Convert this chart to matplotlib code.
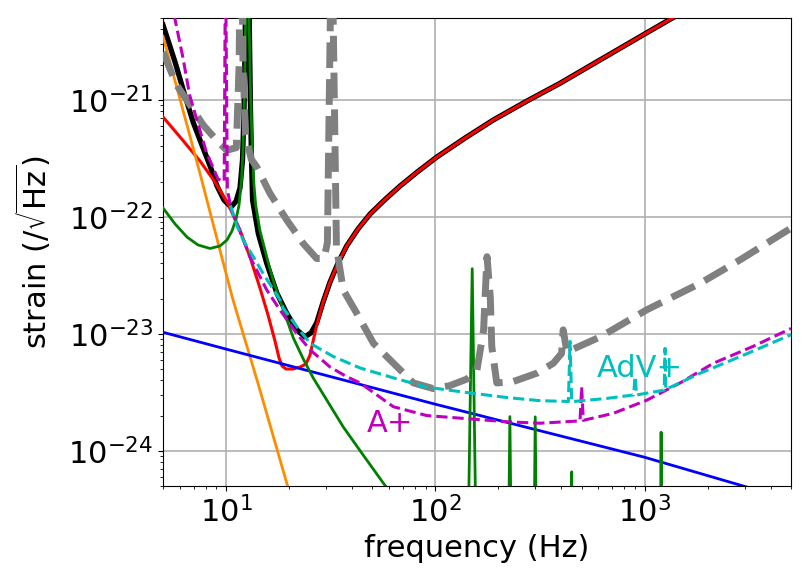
import matplotlib
matplotlib.use("Agg")
import matplotlib.pyplot as plt

# ---------------- data ----------------
total_f = [5.0, 5.71, 6.25, 6.96, 7.51, 8.39, 9.06, 9.78, 10.57, 11.17, 11.66, 11.99, 12.19,
           12.32, 12.62, 12.95, 13.09, 13.24, 13.39, 14.26, 15.65, 17.5, 19.5, 21.8, 23.8,
           25.5, 27.1, 29.1, 31.4, 34.3, 37.7, 42.7, 48.8, 57.5, 67.8, 82.6, 101.6, 138.6,
           189.0, 274.0, 394.0, 612.0, 1005.0, 1839.0]
total_h = [4.36e-21, 2.10e-21, 1.21e-21, 6.46e-22, 4.53e-22, 2.72e-22, 1.83e-22, 1.39e-22,
           1.21e-22, 1.36e-22, 1.76e-22, 3.06e-22, 8.2e-22, 2.66e-21, 1e-19, 3.24e-21, 8.2e-22,
           3.06e-22, 1.39e-22, 7.2e-23, 4.0e-23, 2.22e-23, 1.5e-23, 1.08e-23, 9.4e-24,
           1.02e-23, 1.24e-23, 1.87e-23, 2.77e-23, 4.03e-23, 5.63e-23, 7.86e-23, 1.057e-22,
           1.405e-22, 1.83e-22, 2.44e-22, 3.24e-22, 4.71e-22, 6.71e-22, 9.76e-22, 1.383e-21,
           2.19e-21, 3.67e-21, 6.85e-21]

quantum_f = [5.0, 6.03, 7.51, 8.86, 10.22, 11.66, 13.02, 14.53, 15.87, 17.14, 17.92, 18.51,
             19.35, 20.9, 22.6, 24.1, 25.2, 26.0, 27.1, 29.1, 31.4, 34.3, 37.7, 42.7, 48.8,
             57.5, 67.8, 82.6, 101.6, 138.6, 189.0, 274.0, 394.0, 612.0, 1005.0, 1839.0]
quantum_h = [7.13e-22, 4.81e-22, 3.0e-22, 1.98e-22, 1.29e-22, 7.71e-23, 4.53e-23, 2.46e-23,
             1.45e-23, 8.67e-24, 6.21e-24, 5.31e-24, 5.0e-24, 5.0e-24, 5.2e-24, 5.52e-24,
             6.59e-24, 8.5e-24, 1.17e-23, 1.87e-23, 2.77e-23, 4.03e-23, 5.63e-23, 7.86e-23,
             1.057e-22, 1.405e-22, 1.83e-22, 2.44e-22, 3.24e-22, 4.71e-22, 6.71e-22, 9.76e-22,
             1.383e-21, 2.19e-21, 3.67e-21, 6.85e-21]

seismic_f = [5.0, 7.5, 9.35, 10.8, 14.2, 19.5, 21.0]
seismic_h = [3.5e-21, 2.37e-22, 5.2e-23, 1.95e-23, 3.8e-24, 5.3e-25, 3.5e-25]

coating_f = [5.0, 10.0, 100.0, 1000.0, 5000.0]
coating_h = [1.03e-23, 7.4e-24, 2.5e-24, 8.8e-25, 3.8e-25]

susp_f = [5.0, 5.71, 6.51, 7.35, 8.39, 9.36, 10.11, 10.68, 11.17, 11.54, 11.86, 12.05, 12.28,
          12.4, 12.62, 12.88, 13.07, 13.36, 13.6, 13.86, 14.53, 15.65, 16.77, 18.1, 19.56,
          20.97, 23.4, 26.1, 30.7, 36.3, 45.2, 56.4, 67.8, 140.0, 150.0, 160.0, 220.0, 227.0,
          234.0, 292.0, 300.0, 308.0, 440.0, 448.0, 456.0, 1180.0, 1198.0, 1216.0, 5000.0]
susp_h = [1.19e-22, 8.68e-23, 6.71e-23, 5.74e-23, 5.36e-23, 5.63e-23, 6.34e-23, 7.56e-23,
          9.57e-23, 1.26e-22, 2.06e-22, 3.65e-22, 1.35e-21, 5e-21, 1e-19, 5e-21, 1.35e-21,
          3.6e-22, 1.87e-22, 1.26e-22, 7.6e-23, 4.53e-23, 2.88e-23, 1.94e-23, 1.31e-23,
          9.2e-24, 6.08e-24, 4.19e-24, 2.61e-24, 1.6e-24, 9.2e-25, 5.3e-25, 3.44e-25,
          1e-26, 3.6e-23, 1e-26, 1e-26, 1.96e-24, 1e-26, 1e-26, 1.95e-24, 1e-26, 1e-26,
          6.6e-25, 1e-26, 1e-26, 1.44e-24, 1e-26, 1e-26]

aplus_f = [5.3, 5.69, 6.23, 6.7, 7.21, 8.05, 9.15, 9.8, 9.9, 9.95, 10.0, 10.15, 10.6,
           13.0, 15.65, 18.1, 21.8, 25.2, 31.4, 37.7, 43.7, 63.0, 91.0, 131.5, 220.0, 316.0,
           491.0, 500.0, 509.0, 708.0, 1021.0, 1476.0, 2130.0, 3295.0, 5000.0]
aplus_h = [9.3e-21, 5e-21, 2.28e-21, 1.1e-21, 7.0e-22, 3.6e-22, 2.1e-22, 2.0e-22, 5e-21, 1e-18,
           5e-21, 1.7e-22, 1.15e-22,
           4.56e-23, 2.37e-23, 1.6e-23, 1.0e-23, 7.3e-24, 5.2e-24, 4.3e-24, 3.8e-24, 2.38e-24,
           2.0e-24, 1.9e-24, 1.77e-24, 1.72e-24,
           1.8e-24, 3.5e-24, 1.82e-24, 2.09e-24, 2.7e-24, 3.8e-24, 5.6e-24, 7.8e-24, 1.11e-23]

advplus_f = [10.5, 11.25, 12.09, 13.5, 15.0, 18.1, 18.8, 21.8, 25.2, 32.5, 43.7, 63.0, 91.0,
             131.5, 220.0, 316.0, 432.0, 440.0, 448.0, 657.0, 885.0, 900.0, 915.0, 1240.0,
             1251.0, 1262.0, 1841.0, 2866.0, 5000.0]
advplus_h = [1.25e-22, 8.5e-23, 6.3e-23, 4.56e-23, 3.3e-23, 1.95e-23, 1.65e-23, 1.15e-23,
             8.3e-24, 6.4e-24, 5.1e-24, 4.2e-24, 3.5e-24, 3.2e-24, 2.85e-24, 2.68e-24, 2.64e-24,
             8.6e-24, 2.63e-24, 2.8e-24, 3.0e-24, 4.3e-24, 3.0e-24, 3.3e-24, 7.5e-24, 3.35e-24,
             4.6e-24, 6.4e-24, 9.8e-24]

other_f = [5.0, 5.79, 6.98, 7.77, 9.03, 10.07, 11.2, 11.55, 11.8, 12.05, 12.4, 13.2, 14.0, 16.2,
           19.5, 23.4, 27.1, 29.4, 30.5, 31.5, 32.0, 32.5, 33.7, 36.3, 42.1, 50.6, 58.5, 78.5,
           97.8, 117.0, 141.5, 158.0, 170.0, 176.5, 183.0, 186.0, 196.5, 235.0, 305.0, 366.0,
           401.0, 408.0, 425.0, 613.0, 1021.0, 1841.0, 2866.0, 5000.0]
other_h = [2.56e-21, 1.35e-21, 8.2e-22, 6.1e-22, 4.5e-22, 3.7e-22, 3.9e-22, 2e-21, 1e-19, 2e-21,
           5e-22, 3.1e-22, 2.68e-22, 1.59e-22, 9.4e-23, 5.9e-23, 4.4e-23, 4.4e-23, 6e-23, 5e-21,
           1e-19, 5e-21, 5.5e-23, 2.37e-23, 1.5e-23, 8.3e-24, 6.4e-24, 3.8e-24, 3.4e-24, 3.6e-24,
           4.1e-24, 4.9e-24, 1.08e-23, 4.56e-23, 2.07e-23, 7.8e-24, 3.8e-24, 3.9e-24, 4.6e-24,
           5.6e-24, 6.8e-24, 1.08e-23, 7.0e-24, 9.4e-24, 1.6e-23, 2.7e-23, 4.3e-23, 8.0e-23]

label_text = ["A+", "AdV+"]
label_f = [47.0, 590.0]
label_h = [1.45e-24, 4.3e-24]

x_ticks = [10, 100, 1000]
y_ticks = [1e-24, 1e-23, 1e-22, 1e-21]

# ---------------- figure ----------------
plt.rcParams["font.size"] = 22
fig = plt.figure(figsize=(8.1, 5.81), dpi=100)
ax = fig.add_axes([163 / 810, 95 / 581, 628 / 810, 468 / 581])

ax.loglog(total_f, total_h, color="k", lw=3.8, zorder=2)
ax.loglog(quantum_f, quantum_h, color="r", lw=2.2, zorder=3)
ax.loglog(seismic_f, seismic_h, color="darkorange", lw=2.0, zorder=3)
ax.loglog(coating_f, coating_h, color="b", lw=2.0, zorder=3)
ax.loglog(susp_f, susp_h, color="g", lw=2.0, zorder=3)
ax.loglog(other_f, other_h, color="0.5", lw=5, ls="--", zorder=4)
ax.loglog(aplus_f, aplus_h, color="m", lw=2.2, ls="--", zorder=4)
ax.loglog(advplus_f, advplus_h, color="c", lw=2.2, ls="--", zorder=4)

for t, x, y, c in zip(label_text, label_f, label_h, ["m", "c"]):
    ax.text(x, y, t, color=c, fontsize=22, ha="left", va="baseline")

ax.set_xlim(5, 5000)
ax.set_ylim(5e-25, 5e-21)
ax.set_xticks(x_ticks)
ax.set_yticks(y_ticks)
ax.set_xlim(5, 5000)
ax.set_ylim(5e-25, 5e-21)
ax.grid(True, which="major", color="#b0b0b0", lw=1.2)
ax.set_axisbelow(True)
ax.set_xlabel("frequency (Hz)", fontsize=22)
ax.set_ylabel(r"strain (/$\sqrt{\rm Hz}$)", fontsize=22)
ax.yaxis.set_label_coords(-0.175, 0.5)
ax.tick_params(labelsize=22)

fig.savefig("out.png", dpi=100)
